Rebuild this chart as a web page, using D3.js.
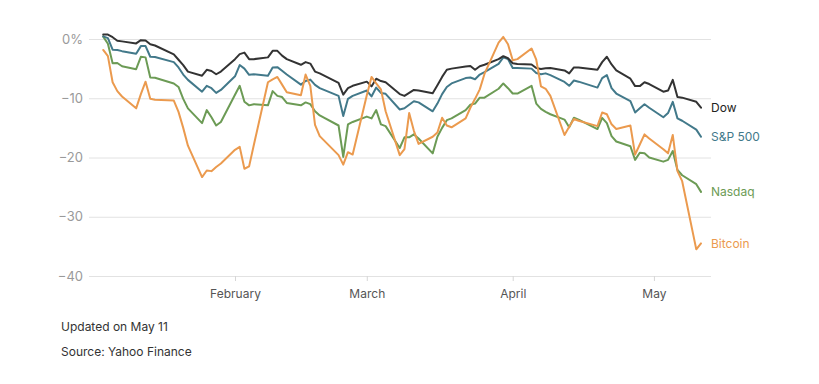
<!DOCTYPE html>
<html>
<head>
<meta charset="utf-8">
<script src="https://cdn.jsdelivr.net/npm/d3@7"></script>
<style>
  html, body { margin: 0; padding: 0; background: #fff; }
  svg { display: block; font-family: Inter, "Noto Sans", sans-serif; }
</style>
</head>
<body>
<svg id="chart" width="819" height="384"></svg>
<script>
const dates = [
  "2022-01-04","2022-01-05","2022-01-06","2022-01-07","2022-01-08","2022-01-11","2022-01-12","2022-01-13","2022-01-14","2022-01-15",
  "2022-01-19","2022-01-20","2022-01-21","2022-01-22","2022-01-25","2022-01-26","2022-01-27","2022-01-28","2022-01-29","2022-02-01",
  "2022-02-02","2022-02-03","2022-02-04","2022-02-05","2022-02-08","2022-02-09","2022-02-10","2022-02-11","2022-02-12","2022-02-15",
  "2022-02-16","2022-02-17","2022-02-18","2022-02-19","2022-02-23","2022-02-24","2022-02-25","2022-02-26","2022-03-01",
  "2022-03-02","2022-03-03","2022-03-04","2022-03-05","2022-03-08","2022-03-09","2022-03-10","2022-03-11","2022-03-12","2022-03-15",
  "2022-03-16","2022-03-17","2022-03-18","2022-03-19","2022-03-22","2022-03-23","2022-03-24","2022-03-25","2022-03-26","2022-03-29",
  "2022-03-30","2022-03-31","2022-04-01",
  "2022-04-02","2022-04-05","2022-04-06","2022-04-07","2022-04-08","2022-04-09","2022-04-12","2022-04-13","2022-04-14","2022-04-15",
  "2022-04-19","2022-04-20","2022-04-21","2022-04-22","2022-04-23","2022-04-26","2022-04-27","2022-04-28","2022-04-29","2022-04-30",
  "2022-05-03","2022-05-04","2022-05-05","2022-05-06","2022-05-07","2022-05-10","2022-05-11"
];

const dow = [
  0.75,0.75,0.3,-0.3,-0.4,-0.75,-0.2,-0.25,-0.9,-1.1,
  -2.6,-3.5,-4.4,-5.5,-6.2,-5.2,-5.4,-5.95,-5.5,-3.4,
  -2.55,-2.3,-3.4,-3.4,-3.1,-2.0,-2.0,-2.8,-3.4,-4.35,
  -3.9,-4.15,-5.5,-5.8,-7.4,-9.4,-8.3,-7.9,-7.2,
  -8.0,-6.7,-7.1,-7.3,-9.3,-9.6,-9.1,-8.6,-8.7,-9.15,
  -7.8,-6.4,-5.2,-5.0,-4.65,-4.55,-5.2,-4.6,-4.35,-3.4,
  -2.9,-3.25,-4.1,
  -4.2,-4.3,-4.9,-5.05,-4.95,-4.9,-5.3,-5.8,-4.8,-4.8,
  -5.2,-3.9,-3.0,-4.3,-5.3,-6.7,-7.95,-7.95,-7.3,-7.6,
  -8.9,-8.7,-6.9,-9.8,-9.9,-10.6,-11.6
];

const sp500 = [
  0.45,0.15,-1.8,-1.85,-2.05,-2.5,-1.2,-1.2,-3.0,-3.05,
  -3.9,-4.8,-6.0,-6.9,-8.9,-7.9,-8.3,-9.1,-8.6,-6.3,
  -4.4,-5.0,-6.05,-5.95,-6.2,-4.8,-4.75,-5.35,-6.0,-7.7,
  -7.1,-6.85,-7.75,-8.3,-9.6,-13.0,-10.1,-9.6,-8.7,
  -9.7,-8.2,-9.1,-9.25,-11.9,-11.7,-11.1,-10.5,-10.7,-12.2,
  -10.9,-9.3,-8.1,-7.5,-6.6,-6.5,-6.8,-6.0,-5.6,-4.2,
  -3.1,-3.4,-4.9,
  -4.9,-5.0,-5.75,-5.95,-5.8,-6.1,-7.25,-7.9,-7.0,-7.2,
  -8.2,-6.6,-6.1,-8.3,-9.2,-10.5,-12.4,-11.7,-11.0,-11.6,
  -13.2,-12.5,-10.6,-13.4,-13.8,-15.3,-16.5
];

const nasdaq = [
  0.4,-0.8,-4.1,-4.05,-4.6,-5.1,-3.0,-3.1,-6.5,-6.55,
  -7.5,-8.1,-10.1,-11.7,-14.2,-12.0,-13.2,-14.6,-14.0,-9.4,
  -7.9,-10.6,-11.2,-11.0,-11.2,-8.8,-9.6,-9.8,-10.8,-11.2,
  -10.7,-11.0,-12.2,-12.9,-14.6,-19.9,-14.4,-14.0,-13.1,
  -13.4,-12.0,-14.4,-14.7,-18.4,-16.6,-16.6,-16.1,-16.8,-19.3,
  -16.5,-15.0,-13.7,-13.4,-12.0,-11.1,-10.9,-9.9,-9.9,-8.4,
  -7.5,-8.3,-9.2,
  -9.2,-7.9,-10.9,-11.8,-12.3,-12.7,-13.6,-14.9,-13.3,-13.6,
  -15.2,-13.3,-14.2,-16.4,-17.3,-18.1,-20.4,-19.2,-19.3,-20.0,
  -20.7,-20.4,-18.9,-22.1,-23.0,-24.5,-25.8
];

const bitcoin = [
  -1.85,-2.9,-7.3,-8.8,-9.7,-11.7,-9.3,-7.2,-10.1,-10.25,
  -10.4,-12.3,-15.0,-18.0,-23.3,-22.2,-22.3,-21.6,-21.0,-18.7,
  -18.2,-21.9,-21.5,-17.9,-7.3,-6.8,-6.4,-7.7,-9.0,-9.5,
  -6.0,-7.9,-14.5,-16.4,-19.6,-21.2,-19.1,-19.5,-9.5,
  -6.4,-7.5,-8.5,-12.2,-19.6,-18.6,-12.5,-15.5,-17.7,-16.5,
  -15.8,-13.3,-14.6,-14.9,-13.4,-11.6,-10.1,-8.5,-5.9,-0.6,
  0.35,-0.9,-3.6,
  -3.4,-1.6,-3.5,-8.0,-8.4,-9.6,-16.2,-14.8,-13.5,-13.8,
  -14.7,-12.4,-12.7,-14.4,-15.2,-14.6,-19.5,-17.8,-16.1,-16.8,
  -18.6,-19.3,-16.2,-22.3,-24.0,-35.5,-34.5
];

const seriesNames = ["Dow", "S&P 500", "Nasdaq", "Bitcoin"];
const yTicks = [0, -10, -20, -30, -40];
const monthTicks = ["2022-02-01", "2022-03-01", "2022-04-01", "2022-05-01"];
const monthLabels = ["February", "March", "April", "May"];
const notes = ["Updated on May 11", "Source: Yahoo Finance"];

const colors = {
  "Dow": "#333333",
  "S&P 500": "#42798a",
  "Nasdaq": "#6c9b55",
  "Bitcoin": "#eb9a4e"
};

const parse = d3.utcParse("%Y-%m-%d");
const parsedDates = dates.map(parse);
const valuesBy = { "Dow": dow, "S&P 500": sp500, "Nasdaq": nasdaq, "Bitcoin": bitcoin };

const svg = d3.select("#chart");

const x = d3.scaleUtc()
  .domain([parse("2022-01-04"), parse("2022-05-11")])
  .range([103.2, 701]);

const y = d3.scaleLinear()
  .domain([-40, 0])
  .range([276, 39]);

const gridLeft = 89, gridRight = 711;

const yAxis = d3.axisLeft(y)
  .tickValues(yTicks)
  .tickSize(-(gridRight - gridLeft))
  .tickPadding(6)
  .tickFormat(d => d === 0 ? "0%" : d3.format("d")(d));

const gy = svg.append("g")
  .attr("transform", `translate(${gridLeft},0)`)
  .call(yAxis);
gy.select(".domain").remove();
gy.selectAll(".tick line").attr("stroke", "#e2e2e2").attr("stroke-width", 1);
gy.selectAll(".tick text")
  .attr("fill", "#9a9a9a")
  .attr("font-size", 13)
  .attr("font-family", "Inter, sans-serif");

const xAxis = d3.axisBottom(x)
  .tickValues(monthTicks.map(parse))
  .tickSize(5)
  .tickPadding(8)
  .tickFormat((d, i) => monthLabels[i]);

const gx = svg.append("g")
  .attr("transform", `translate(0,${y(-40)})`)
  .call(xAxis);
gx.select(".domain").remove();
gx.selectAll(".tick line").attr("stroke", "#d6d6d6");
gx.selectAll(".tick text")
  .attr("fill", "#555")
  .attr("font-size", 12)
  .attr("font-family", "Inter, sans-serif");

const line = d3.line()
  .x((d, i) => x(parsedDates[i]))
  .y(d => y(d));

const drawOrder = ["Nasdaq", "S&P 500", "Dow", "Bitcoin"];
drawOrder.forEach(name => {
  svg.append("path")
    .datum(valuesBy[name])
    .attr("fill", "none")
    .attr("stroke", colors[name])
    .attr("stroke-width", 2)
    .attr("stroke-linejoin", "round")
    .attr("stroke-linecap", "round")
    .attr("d", line);
});

const lastIdx = dates.length - 1;
seriesNames.forEach(name => {
  const vals = valuesBy[name];
  svg.append("text")
    .attr("x", x(parsedDates[lastIdx]) + 10)
    .attr("y", y(vals[lastIdx]))
    .attr("dy", "0.35em")
    .attr("fill", name === "Dow" ? "#222" : colors[name])
    .attr("font-size", 12)
    .attr("font-family", "Inter, sans-serif")
    .text(name);
});

notes.forEach((t, i) => {
  svg.append("text")
    .attr("x", 61)
    .attr("y", 331 + i * 25)
    .attr("fill", "#333")
    .attr("font-size", 12)
    .attr("font-family", "Inter, sans-serif")
    .text(t);
});
</script>
</body>
</html>
